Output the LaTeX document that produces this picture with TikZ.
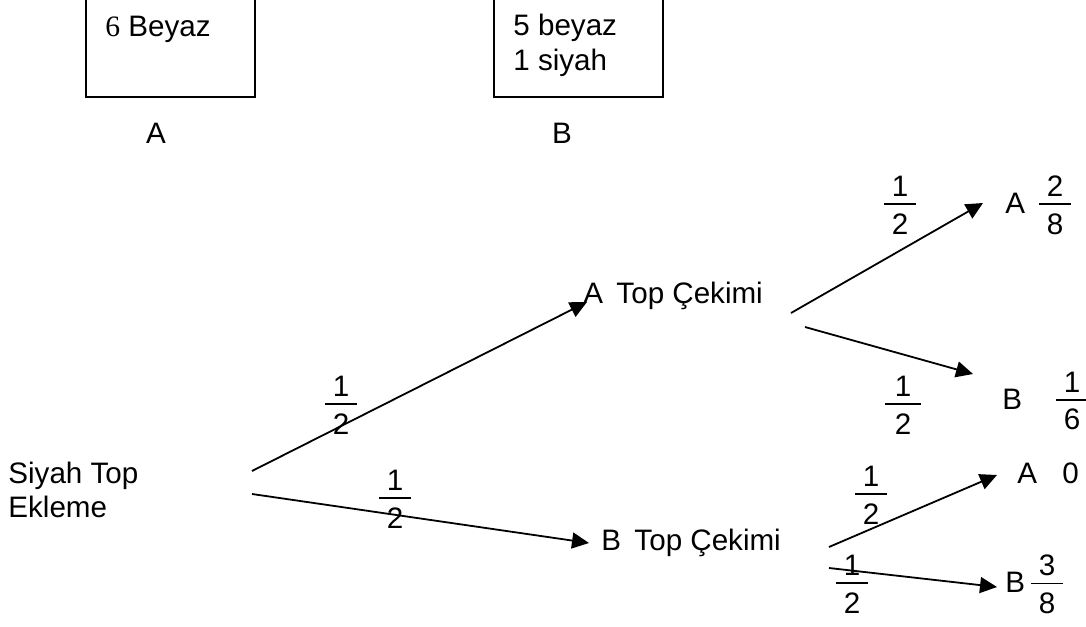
\documentclass[tikz,border=0pt]{standalone}
\usepackage{fontspec}
\setmainfont{Liberation Sans}
\newfontfamily\tmsfont{Liberation Serif}
\usetikzlibrary{arrows.meta}
\newcommand\frc[3][16pt]{\vbox{\offinterlineskip\halign{\hfil##\hfil\cr\hbox{#2}\cr\noalign{\kern3.6pt}\vrule width #1 height 0.6pt\cr\noalign{\kern4.4pt}\hbox{#3}\cr}}}
\tikzset{
  txt/.style={inner sep=0pt, font=\fontsize{14.8}{17.5}\selectfont},
  lbl/.style={txt, anchor=base west},
  fracl/.style={txt, anchor=center},
  boxline/.style={line width=0.7pt},
  arr/.style={line width=0.9pt, -{Triangle[length=8.5pt,width=8pt]}}
}
\begin{document}
\begin{tikzpicture}[x=0.5pt,y=-0.5pt]
\useasboundingbox (0,0) rectangle (1086,626);
% boxes
\draw[boxline] (86,-4) -- (86,97) -- (255,97) -- (255,-4);
\draw[boxline] (494,-4) -- (494,97) -- (663,97) -- (663,-4);
\node[lbl] (ta) at (105,37) {{\tmsfont 6} Beyaz};
\node[lbl] (tb1) at (513,36) {5 beyaz};
\node[lbl] (tb2) at (513,71) {1 siyah};
\node[txt, anchor=base] (la) at (156,143) {A};
\node[txt, anchor=base] (lb) at (562,143) {B};
% tree labels
\node[lbl] (root1) at (8,483) {Siyah Top};
\node[lbl] (root2) at (8,517) {Ekleme};
\node[lbl] (ac) at (583,303) {A\hspace{0.45em}Top Çekimi};
\node[lbl] (bc) at (601,550) {B\hspace{0.45em}Top Çekimi};
\node[lbl] (aa) at (1005,213) {A};
\node[lbl] (ab) at (1002,409) {B};
\node[lbl] (ba) at (1017,483) {A\hspace{0.85em}0};
\node[lbl] (bb) at (1005,592) {B};
% fractions
\node[fracl] (f1) at (341,405) {\frc{1}{2}};
\node[fracl] (f2) at (395,499) {\frc{1}{2}};
\node[fracl] (f3) at (900,205) {\frc{1}{2}};
\node[fracl] (f4) at (903,405) {\frc[18pt]{1}{2}};
\node[fracl] (f5) at (1055,205) {\frc{2}{8}};
\node[fracl] (f6) at (1072,401) {\frc{1}{6}};
\node[fracl] (f7) at (871,495) {\frc{1}{2}};
\node[fracl] (f8) at (852,584) {\frc{1}{2}};
\node[fracl] (f9) at (1047,584) {\frc{3}{8}};
% connector end points
\coordinate (s1) at (252,471); \coordinate (e1) at (587,302);
\coordinate (s2) at (252,494); \coordinate (e2) at (589,543);
\coordinate (s3) at (791,313); \coordinate (e3) at (983,203);
\coordinate (s4) at (805,327); \coordinate (e4) at (973,374);
\coordinate (s5) at (829,547); \coordinate (e5) at (997,475);
\coordinate (s6) at (829,568); \coordinate (e6) at (997,587);
\draw[arr] (s1) -- (e1);
\draw[arr] (s2) -- (e2);
\draw[arr] (s3) -- (e3);
\draw[arr] (s4) -- (e4);
\draw[arr] (s5) -- (e5);
\draw[arr] (s6) -- (e6);
\end{tikzpicture}
\end{document}
